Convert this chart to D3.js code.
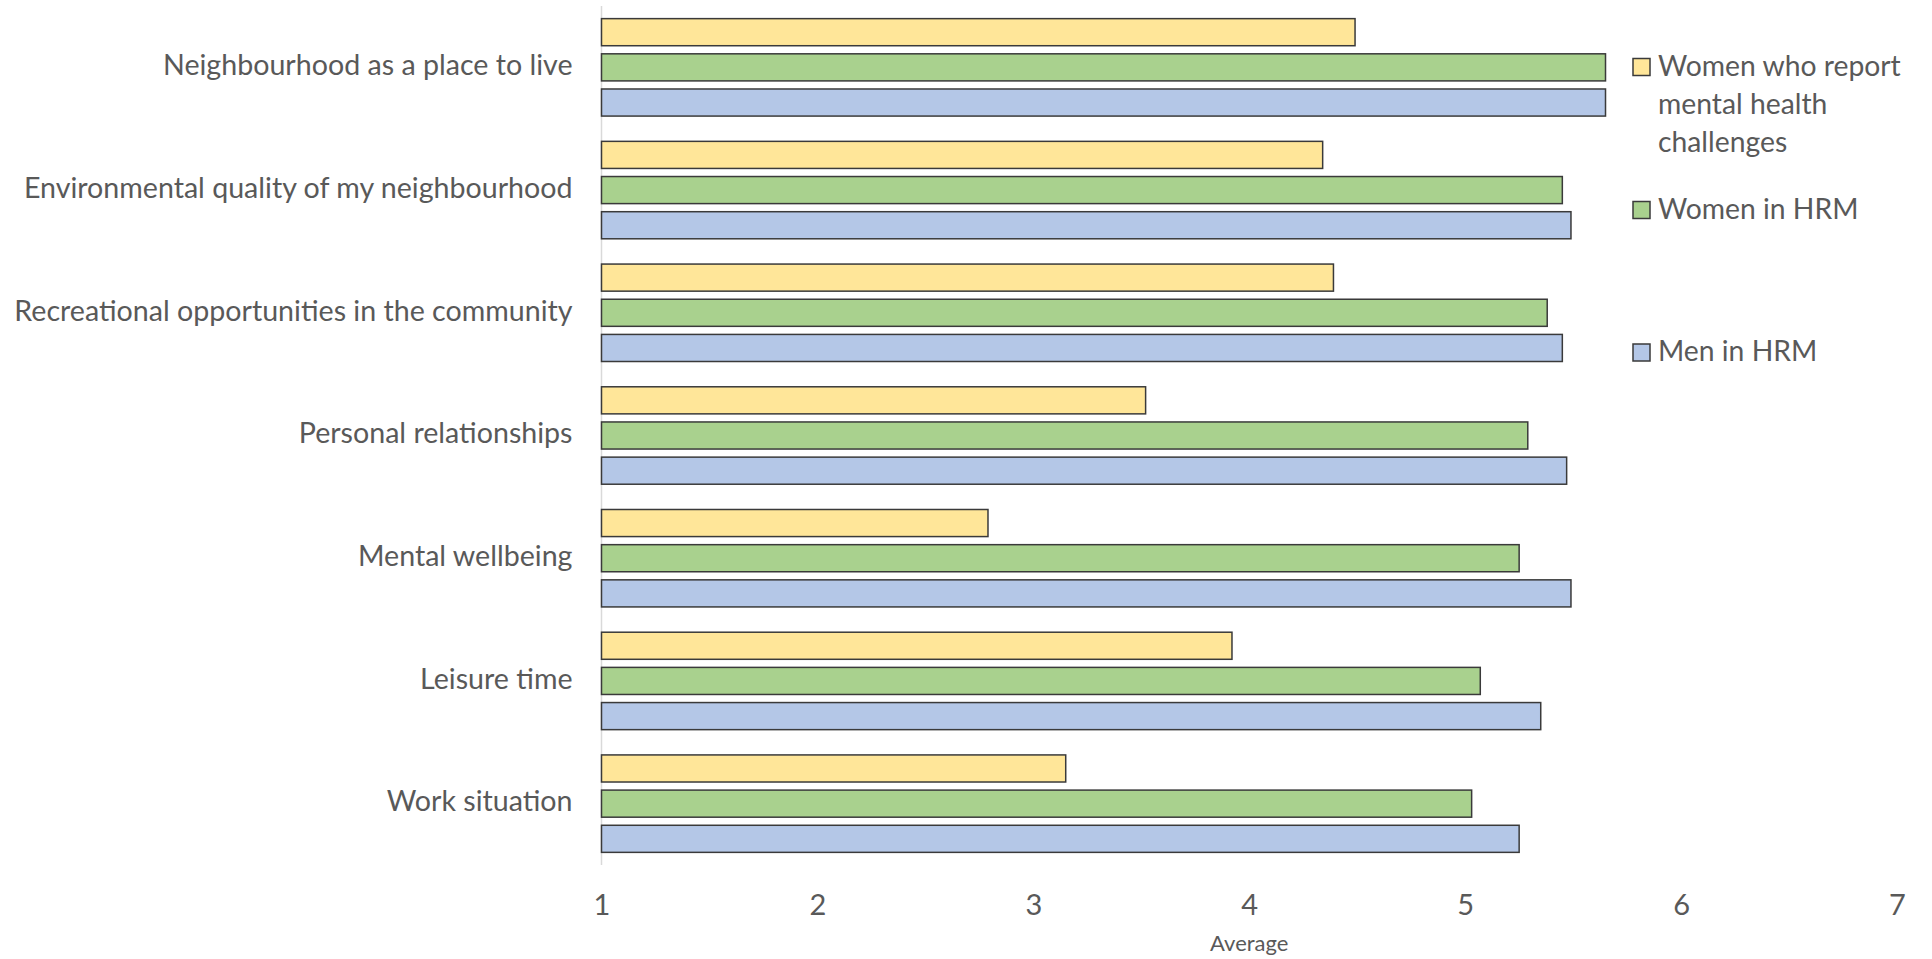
<!DOCTYPE html>
<html>
<head>
<meta charset="utf-8">
<script src="https://cdn.jsdelivr.net/npm/d3@7"></script>
<style>
  html, body { margin: 0; padding: 0; background: #fff; }
  svg { display: block; }
  text { font-family: Lato, "Open Sans", sans-serif; fill: #595959; }
</style>
</head>
<body>
<svg id="chart" width="1932" height="959"></svg>
<script>
const categories = [
  "Neighbourhood as a place to live",
  "Environmental quality of my neighbourhood",
  "Recreational opportunities in the community",
  "Personal relationships",
  "Mental wellbeing",
  "Leisure time",
  "Work situation"
];
const seriesNames = [
  "Women who report mental health challenges",
  "Women in HRM",
  "Men in HRM"
];
const legendLines = [
  ["Women who report", "mental health", "challenges"],
  ["Women in HRM"],
  ["Men in HRM"]
];
const womenMentalHealth = [4.49, 4.34, 4.39, 3.52, 2.79, 3.92, 3.15];
const womenHRM          = [5.65, 5.45, 5.38, 5.29, 5.25, 5.07, 5.03];
const menHRM            = [5.65, 5.49, 5.45, 5.47, 5.49, 5.35, 5.25];
const xTicks = [1, 2, 3, 4, 5, 6, 7];
const xTitle = "Average";
const colors = ["#FFE699", "#A9D18E", "#B4C7E7"];

const seriesValues = [womenMentalHealth, womenHRM, menHRM];
const rows = categories.map((c, i) => ({
  category: c,
  values: seriesValues.map((s, k) => ({ key: seriesNames[k], k, value: s[i] }))
}));

const svg = d3.select("#chart");
const x = d3.scaleLinear().domain([1, 7]).range([601.5, 1897]);
const y = d3.scaleBand().domain(categories).range([6, 865]).paddingInner(0.206).paddingOuter(0.103);
const ySub = d3.scaleBand().domain(seriesNames).range([0, y.bandwidth()]).paddingInner(0.23);

// vertical axis line
svg.append("line")
  .attr("x1", x(1)).attr("x2", x(1))
  .attr("y1", y.range()[0]).attr("y2", y.range()[1])
  .attr("stroke", "#D9D9D9").attr("stroke-width", 1.5);

// bars
const groups = svg.append("g").selectAll("g").data(rows).join("g")
  .attr("transform", d => `translate(0,${y(d.category)})`);
groups.selectAll("rect").data(d => d.values).join("rect")
  .attr("x", x(1))
  .attr("y", d => ySub(d.key))
  .attr("width", d => x(d.value) - x(1))
  .attr("height", ySub.bandwidth())
  .attr("fill", d => colors[d.k])
  .attr("stroke", "#3a3a3a")
  .attr("stroke-width", 1.5);

// category labels
const yAxis = d3.axisLeft(y).tickSize(0).tickPadding(29);
const gy = svg.append("g").attr("transform", `translate(${x(1)},0)`).call(yAxis);
gy.select(".domain").remove();
gy.selectAll("text")
  .attr("dy", "0.27em")
  .style("font-size", "28.6px")
  .style("fill", "#595959")
  .style("font-family", "Lato, 'Open Sans', sans-serif");

// x tick labels
const xAxis = d3.axisBottom(x).tickValues(xTicks).tickSize(0).tickPadding(0).tickFormat(d3.format("d"));
const gx = svg.append("g").attr("transform", `translate(0,915)`).call(xAxis);
gx.select(".domain").remove();
gx.selectAll("text")
  .attr("y", 0).attr("dy", 0)
  .style("font-size", "29px")
  .style("fill", "#595959")
  .style("font-family", "Lato, 'Open Sans', sans-serif");

// x title
svg.append("text")
  .attr("x", (x(1) + x(7)) / 2).attr("y", 951)
  .attr("text-anchor", "middle")
  .style("font-size", "22px")
  .text(xTitle);

// legend
const legendTop = [58.5, 201.5, 344];
const legend = svg.append("g");
seriesNames.forEach((name, k) => {
  legend.append("rect")
    .attr("x", 1633).attr("y", legendTop[k])
    .attr("width", 17).attr("height", 17)
    .attr("fill", colors[k]).attr("stroke", "#3a3a3a").attr("stroke-width", 1.5);
  const t = legend.append("text")
    .attr("x", 1658).attr("y", legendTop[k] + 17)
    .style("font-size", "28.3px");
  legendLines[k].forEach((line, j) => {
    t.append("tspan").attr("x", 1658).attr("dy", j === 0 ? 0 : 38).text(line);
  });
});
</script>
</body>
</html>
